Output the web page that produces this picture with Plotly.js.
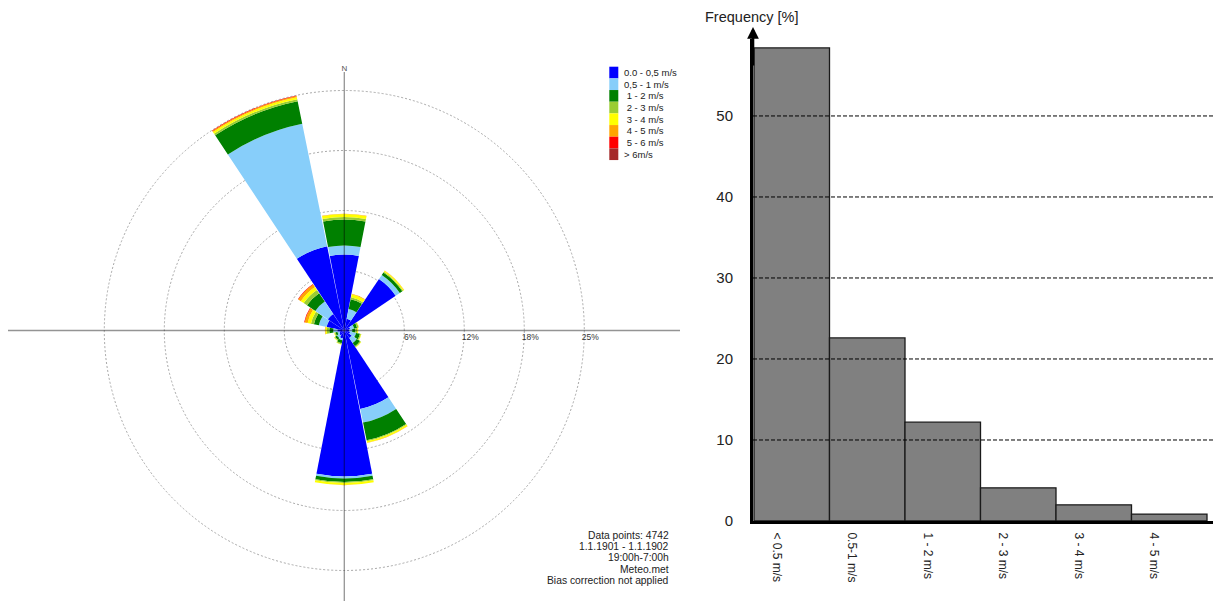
<!DOCTYPE html>
<html>
<head>
<meta charset="utf-8">
<script src="https://cdn.plot.ly/plotly-3.0.1.min.js"></script>
<style>
  html, body { margin: 0; padding: 0; background: #fff; }
  #chart { width: 1215px; height: 601px; }
</style>
</head>
<body>
<div id="chart"></div>
<script>
// Compass sectors (degrees clockwise from north)
const directions = [0, 22.5, 45, 67.5, 90, 112.5, 135, 157.5, 180, 202.5, 225, 247.5, 270, 292.5, 315, 337.5];

// Frequency [%] per sector, one array per wind-speed class
const speed0to05 = [7.6, 1.2, 6.2, 0.6, 0.5, 0.6, 0.9, 8.0, 14.6, 0.8, 0.6, 0.5, 0.7, 1.8, 2.0, 8.6];
const speed05to1 = [0.9, 1.0, 0.5, 0.4, 0.3, 0.6, 0.6, 1.4, 0.2, 0.2, 0.3, 0.2, 0.4, 0.8, 1.5, 12.5];
const speed1to2  = [2.6, 1.0, 0.3, 0.3, 0.3, 0.4, 0.4, 1.8, 0.35, 0.3, 0.2, 0.2, 0.4, 0.5, 1.0, 2.3];
const speed2to3  = [0.25, 0.2, 0.1, 0.15, 0.2, 0.1, 0.1, 0.1, 0.1, 0.1, 0.1, 0.1, 0.25, 0.3, 0.4, 0.2];
const speed3to4  = [0.3, 0.3, 0.1, 0.05, 0.1, 0.05, 0.05, 0.15, 0.2, 0.05, 0.05, 0.05, 0.15, 0.35, 0.35, 0.2];
const speed4to5  = [0.03, 0.05, 0.03, 0, 0, 0, 0, 0.02, 0.02, 0, 0, 0, 0.05, 0.3, 0.3, 0.12];
const speed5to6  = [0, 0, 0, 0, 0, 0, 0, 0, 0, 0, 0, 0, 0, 0.05, 0.05, 0.05];
const speedOver6 = [0, 0, 0, 0, 0, 0, 0, 0, 0, 0, 0, 0, 0, 0, 0, 0];

const speedClasses = ['0.0 - 0,5 m/s', '0,5 - 1 m/s', '\u00a01 - 2 m/s', '\u00a02 - 3 m/s',
                      '\u00a03 - 4 m/s', '\u00a04 - 5 m/s', '\u00a05 - 6 m/s', '&gt; 6m/s'];
const classColors = ['#0000ff', '#87cefa', '#008000', '#9acd32', '#ffff00', '#ffa500', '#ff0000', '#a52a2a'];

// Ring values of the rose and their labels
const ringValues = [6, 12, 18, 24];
const ringLabels = ['6%', '12%', '18%', '25%'];

// Speed distribution histogram
const histLabels = ['&lt; 0.5 m/s', '0.5-1 m/s', '1 - 2 m/s', '2 - 3 m/s', '3 - 4 m/s', '4 - 5 m/s'];
const histValues = [58.4, 22.6, 12.2, 4.1, 2.0, 0.86];
const histTicks = [0, 10, 20, 30, 40, 50];

const infoLines = ['Data points: 4742', '1.1.1901 - 1.1.1902', '19:00h-7:00h', 'Meteo.met', 'Bias correction not applied'];

// ---- page geometry helpers (pixels -> paper fractions) ----
const W = 1215, H = 601;
const px = x => x / W;
const py = y => 1 - y / H;

const FONT = 'Liberation Sans, Arial, sans-serif';
const rose = { cx: 344.3, cy: 330.5, R: 240 };
const roseMax = ringValues[ringValues.length - 1];
const ringStyle = { color: '#a8a8a8', width: 1, dash: '2px,2px' };

const speedSeries = [speed0to05, speed05to1, speed1to2, speed2to3, speed3to4, speed4to5, speed5to6, speedOver6];

const traces = speedSeries.map((vals, k) => ({
  type: 'barpolar',
  subplot: 'polar',
  r: vals,
  theta: directions,
  width: 22,
  name: speedClasses[k],
  marker: { color: classColors[k], line: { width: 0 } },
  showlegend: false,
  hoverinfo: 'skip'
}));

const barUnit = 75.5;               // pixels per histogram class
const histLeft = 753, histRight = 1213;
const xStart = -0.3 - (754 - histLeft) / barUnit;
const xEnd = xStart + (histRight - histLeft) / barUnit;

traces.push({
  type: 'bar',
  x: histLabels,
  y: histValues,
  width: 1,
  offset: -0.3,
  xaxis: 'x',
  yaxis: 'y',
  marker: { color: '#808080', line: { color: '#1a1a1a', width: 1.3 } },
  showlegend: false,
  hoverinfo: 'skip'
});

const shapes = [];
const annotations = [];

// Outermost ring sits on the edge of the polar frame
shapes.push({ type: 'circle', xref: 'paper', yref: 'paper', layer: 'below',
  x0: px(rose.cx - rose.R), x1: px(rose.cx + rose.R),
  y0: py(rose.cy + rose.R), y1: py(rose.cy - rose.R),
  line: ringStyle, fillcolor: 'rgba(0,0,0,0)' });

// Axis cross of the rose, drawn over the sectors
shapes.push({ type: 'line', xref: 'paper', yref: 'paper', layer: 'above',
  x0: px(8), x1: px(680), y0: py(rose.cy), y1: py(rose.cy),
  line: { color: 'rgba(0,0,0,0.42)', width: 1.3 } });
shapes.push({ type: 'line', xref: 'paper', yref: 'paper', layer: 'above',
  x0: px(rose.cx), x1: px(rose.cx), y0: py(72), y1: 0,
  line: { color: 'rgba(0,0,0,0.42)', width: 1.3 } });

// Legend of speed classes
const legTop = 66.7, legRow = 11.67, legX = 609.3, swatchW = 9;
speedClasses.forEach((label, k) => {
  shapes.push({ type: 'rect', xref: 'paper', yref: 'paper', layer: 'above',
    x0: px(legX), x1: px(legX + swatchW),
    y0: py(legTop + k * legRow), y1: py(legTop + (k + 1) * legRow),
    fillcolor: classColors[k], line: { width: 0 } });
  annotations.push({ xref: 'paper', yref: 'paper', x: px(622), y: py(legTop + (k + 0.5) * legRow),
    xanchor: 'left', yanchor: 'middle', showarrow: false, text: label,
    font: { family: FONT, size: 9.5, color: '#222' } });
});

// Info block, bottom right of the rose
infoLines.forEach((line, k) => {
  annotations.push({ xref: 'paper', yref: 'paper', x: px(671), y: py(535 + k * 11.4),
    xanchor: 'right', yanchor: 'middle', showarrow: false, text: line,
    font: { family: FONT, size: 10.3, color: '#222' } });
});

// Dashed grid of the histogram, drawn above the bars
histTicks.filter(v => v > 0).forEach(v => {
  shapes.push({ type: 'line', xref: 'x domain', yref: 'y', layer: 'above',
    x0: 0, x1: 1, y0: v, y1: v, line: { color: '#000', width: 1, dash: '4px,2px' } });
});

// Arrow tip on the frequency axis
annotations.push({ xref: 'paper', yref: 'paper', x: px(histLeft), y: py(27),
  axref: 'pixel', ayref: 'pixel', ax: 0, ay: 40, showarrow: true,
  arrowhead: 2, arrowsize: 0.9, arrowwidth: 2.6, arrowcolor: '#000', standoff: 0, text: '' });

// Axis title of the histogram
annotations.push({ xref: 'paper', yref: 'paper', x: px(703), y: py(16.7),
  xanchor: 'left', yanchor: 'middle', showarrow: false, text: 'Frequency [%]',
  font: { family: FONT, size: 14.5, color: '#222' } });

const layout = {
  width: W, height: H,
  margin: { l: 0, r: 0, t: 0, b: 0 },
  paper_bgcolor: '#fff',
  plot_bgcolor: 'rgba(0,0,0,0)',
  showlegend: false,
  font: { family: FONT, color: '#222' },
  polar: {
    domain: { x: [px(rose.cx - rose.R), px(rose.cx + rose.R)], y: [py(rose.cy + rose.R), py(rose.cy - rose.R)] },
    bgcolor: 'rgba(0,0,0,0)',
    barmode: 'stack',
    angularaxis: {
      direction: 'clockwise', rotation: 90,
      showline: false, showgrid: false,
      tickvals: [0], ticktext: ['N'],
      ticks: 'outside', ticklen: 16, tickcolor: 'rgba(0,0,0,0)',
      tickfont: { family: FONT, size: 8, color: '#555' }
    },
    radialaxis: {
      range: [0, roseMax], angle: 0, side: 'clockwise',
      tickvals: ringValues,
      ticktext: ringLabels.map(t => '\u00a0\u00a0\u00a0\u00a0\u00a0' + t),
      showline: false, ticks: '',
      gridcolor: ringStyle.color, gridwidth: ringStyle.width, griddash: ringStyle.dash,
      layer: 'below traces',
      tickfont: { family: FONT, size: 8.5, color: '#333' }
    }
  },
  xaxis: {
    domain: [px(histLeft), px(histRight)],
    type: 'category',
    range: [xStart, xEnd],
    showline: true, linewidth: 3, linecolor: '#000',
    showgrid: false, zeroline: false,
    tickangle: 90,
    ticks: 'outside', ticklen: 6, tickcolor: 'rgba(0,0,0,0)',
    tickfont: { family: FONT, size: 12, color: '#222' },
    fixedrange: true
  },
  yaxis: {
    domain: [py(521), py(39)],
    range: [0, 59.5],
    showline: true, linewidth: 3, linecolor: '#000',
    showgrid: false, zeroline: false,
    tickvals: histTicks,
    ticks: 'outside', ticklen: 14, tickcolor: 'rgba(0,0,0,0)',
    tickfont: { family: FONT, size: 15, color: '#222' },
    fixedrange: true
  },
  shapes: shapes,
  annotations: annotations
};

Plotly.newPlot('chart', traces, layout, { staticPlot: true, displayModeBar: false });
</script>
</body>
</html>
